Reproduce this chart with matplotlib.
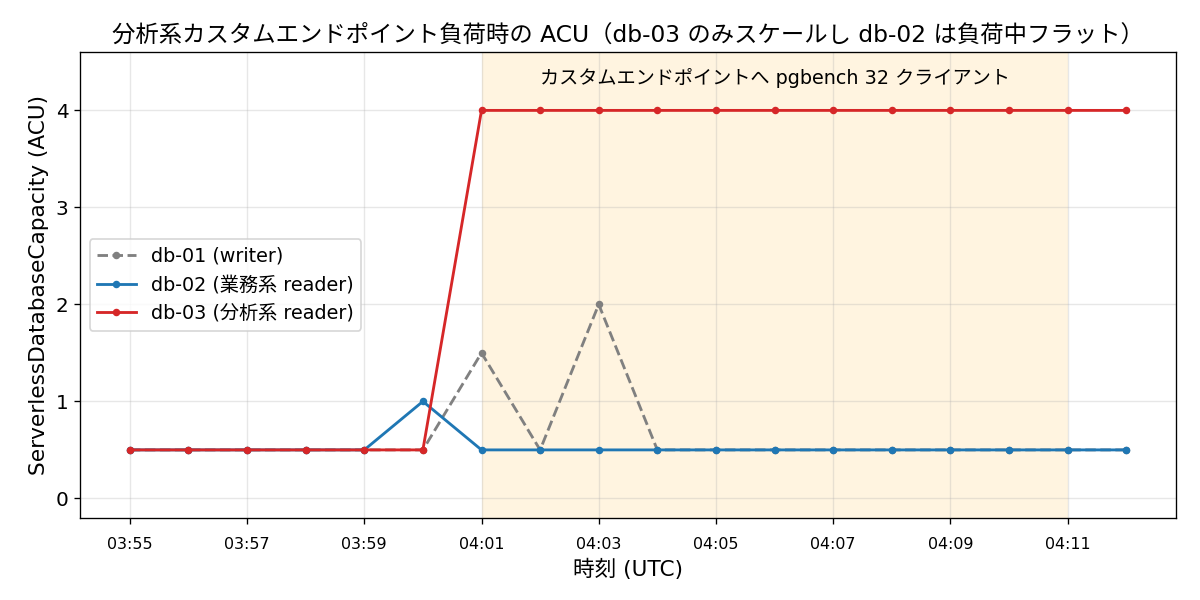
import matplotlib
matplotlib.use("Agg")
import matplotlib.pyplot as plt

plt.rcParams['font.family'] = ['DejaVu Sans', 'Noto Sans CJK JP']

times = ["03:55", "03:56", "03:57", "03:58", "03:59", "04:00", "04:01", "04:02", "04:03",
         "04:04", "04:05", "04:06", "04:07", "04:08", "04:09", "04:10", "04:11", "04:12"]
db01 = [0.5, 0.5, 0.5, 0.5, 0.5, 0.5, 1.5, 0.5, 2.0, 0.5, 0.5, 0.5, 0.5, 0.5, 0.5, 0.5, 0.5, 0.5]
db02 = [0.5, 0.5, 0.5, 0.5, 0.5, 1.0, 0.5, 0.5, 0.5, 0.5, 0.5, 0.5, 0.5, 0.5, 0.5, 0.5, 0.5, 0.5]
db03 = [0.5, 0.5, 0.5, 0.5, 0.5, 0.5, 4.0, 4.0, 4.0, 4.0, 4.0, 4.0, 4.0, 4.0, 4.0, 4.0, 4.0, 4.0]
load_start, load_end = "04:01", "04:11"
load_label = "カスタムエンドポイントへ pgbench 32 クライアント"

x = list(range(len(times)))
fig, ax = plt.subplots(figsize=(10, 5), dpi=120)

ax.axvspan(times.index(load_start), times.index(load_end), color='orange', alpha=0.12, lw=0)
ax.plot(x, db01, '--', marker='o', color='gray', lw=1.7, ms=3.5, label='db-01 (writer)')
ax.plot(x, db02, '-', marker='o', color='#1f77b4', lw=1.7, ms=3.5, label='db-02 (業務系 reader)')
ax.plot(x, db03, '-', marker='o', color='#d62728', lw=1.7, ms=3.5, label='db-03 (分析系 reader)')

mid = (times.index(load_start) + times.index(load_end)) / 2
ax.text(mid, 4.33, load_label, ha='center', va='center', fontsize=11.5)

ax.set_xticks(x[::2])
ax.set_xticklabels(times[::2], fontsize=9.5)
ax.tick_params(axis='x', pad=8)
ax.tick_params(axis='y', labelsize=12)
ax.set_ylim(-0.2, 4.6)
ax.set_xlim(-0.85, 17.85)
ax.set_yticks([0, 1, 2, 3, 4])
ax.grid(True, alpha=0.3)
ax.set_xlabel('時刻 (UTC)', fontsize=13)
ax.set_ylabel('ServerlessDatabaseCapacity (ACU)', fontsize=13)
ax.set_title('分析系カスタムエンドポイント負荷時の ACU（db-03 のみスケールし db-02 は負荷中フラット）', fontsize=14)
ax.legend(loc='center left', fontsize=11.5)

fig.subplots_adjust(left=0.0667, right=0.98, top=0.913, bottom=0.137)
fig.savefig('out.png')
